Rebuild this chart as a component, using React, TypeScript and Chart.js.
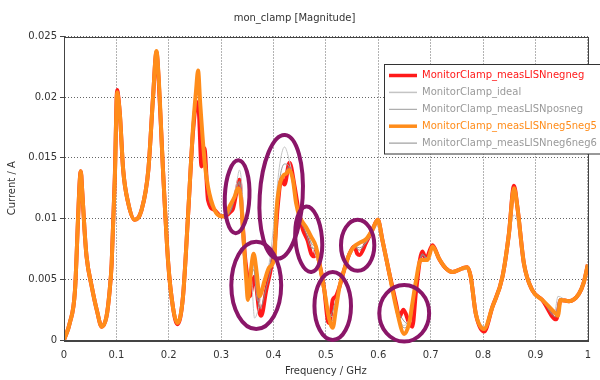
import { useEffect, useRef } from "react";
import { Chart, registerables } from "chart.js";

Chart.register(...registerables);

const TITLE = "mon_clamp [Magnitude]";
const X_TITLE = "Frequency / GHz";
const Y_TITLE = "Current / A";
const X_TICKS = [0, 0.1, 0.2, 0.3, 0.4, 0.5, 0.6, 0.7, 0.8, 0.9, 1];
const Y_TICKS = [0, 0.005, 0.01, 0.015, 0.02, 0.025];

const SERIES_NAMES = [
  "MonitorClamp_measLISNnegneg",
  "MonitorClamp_ideal",
  "MonitorClamp_measLISNposneg",
  "MonitorClamp_measLISNneg5neg5",
  "MonitorClamp_measLISNneg6neg6",
];

// [frequency GHz, current A]
const negneg: [number, number][] = [
  [0, 0], [0.011, 0.0014], [0.021, 0.0041], [0.027, 0.0102], [0.03, 0.0131], [0.032, 0.0139], [0.035, 0.0121],
  [0.039, 0.0092], [0.043, 0.0069], [0.053, 0.0044], [0.063, 0.0024], [0.072, 0.0011], [0.081, 0.0019],
  [0.087, 0.004], [0.091, 0.0063], [0.097, 0.0134], [0.1015, 0.0206], [0.104, 0.0199], [0.107, 0.0184],
  [0.113, 0.014], [0.1225, 0.0113], [0.135, 0.0099], [0.148, 0.0107], [0.161, 0.014], [0.17, 0.02],
  [0.1765, 0.0237], [0.181, 0.0212], [0.189, 0.014], [0.199, 0.0063], [0.208, 0.0027], [0.2165, 0.0013],
  [0.227, 0.0035], [0.237, 0.0104], [0.246, 0.017], [0.2535, 0.0196], [0.2575, 0.0188], [0.2625, 0.0143],
  [0.268, 0.0158], [0.275, 0.0115], [0.2876, 0.0107], [0.3, 0.0102], [0.3067, 0.0102], [0.319, 0.0106],
  [0.3225, 0.0108], [0.329, 0.0121], [0.335, 0.0132], [0.338, 0.0118], [0.345, 0.0071], [0.351, 0.0049],
  [0.3543, 0.0036], [0.3638, 0.0052], [0.373, 0.0023], [0.3765, 0.002], [0.386, 0.0041], [0.3956, 0.006],
  [0.402, 0.0077], [0.408, 0.011], [0.415, 0.0133], [0.421, 0.0128], [0.4305, 0.0146], [0.44, 0.0127],
  [0.4495, 0.0102], [0.456, 0.0091], [0.465, 0.0082], [0.472, 0.0071], [0.478, 0.0069], [0.481, 0.0074],
  [0.4876, 0.0063], [0.497, 0.0041], [0.5035, 0.0016], [0.5067, 0.0014], [0.513, 0.0033], [0.519, 0.0036],
  [0.526, 0.0044], [0.535, 0.0058], [0.545, 0.0071], [0.554, 0.0077], [0.56, 0.0071], [0.564, 0.007],
  [0.5765, 0.008], [0.589, 0.0091], [0.599, 0.0099], [0.608, 0.0082], [0.621, 0.0055], [0.634, 0.003],
  [0.64, 0.0019], [0.648, 0.0025], [0.659, 0.0014], [0.665, 0.0011], [0.672, 0.004], [0.684, 0.0073],
  [0.691, 0.0067], [0.7035, 0.0078], [0.716, 0.0067], [0.729, 0.0059], [0.7415, 0.0056], [0.7606, 0.0059],
  [0.77, 0.006], [0.7765, 0.0052], [0.786, 0.0022], [0.802, 0.0007], [0.8177, 0.0027], [0.837, 0.0052],
  [0.8495, 0.0088], [0.859, 0.0127], [0.8654, 0.011], [0.878, 0.0063], [0.894, 0.0041], [0.913, 0.0033],
  [0.9397, 0.0017], [0.948, 0.0033], [0.964, 0.0032], [0.983, 0.0038], [0.992, 0.0047], [1, 0.0062],
];

const ideal: [number, number][] = [
  [0, 0], [0.021, 0.0041], [0.027, 0.0102], [0.032, 0.0139], [0.035, 0.0121], [0.043, 0.0069], [0.053, 0.0044],
  [0.072, 0.0011], [0.081, 0.0019], [0.091, 0.0063], [0.097, 0.0132], [0.1015, 0.0203], [0.107, 0.0184],
  [0.113, 0.014], [0.1225, 0.0113], [0.135, 0.0099], [0.148, 0.0107], [0.161, 0.014], [0.17, 0.02],
  [0.1765, 0.0236], [0.181, 0.0213], [0.189, 0.014], [0.199, 0.0063], [0.208, 0.0027], [0.2165, 0.0014],
  [0.227, 0.0035], [0.237, 0.0104], [0.246, 0.0172], [0.256, 0.022], [0.26, 0.0196], [0.2686, 0.0146],
  [0.275, 0.0126], [0.2876, 0.0107], [0.3, 0.0102], [0.3067, 0.0102], [0.319, 0.011], [0.329, 0.0128],
  [0.335, 0.014], [0.34, 0.0125], [0.345, 0.0082], [0.351, 0.0048], [0.357, 0.0052], [0.3638, 0.0018],
  [0.37, 0.0024], [0.38, 0.0045], [0.392, 0.0064], [0.402, 0.0102], [0.411, 0.0142], [0.421, 0.0159],
  [0.43, 0.0148], [0.437, 0.0133], [0.443, 0.0113], [0.4495, 0.0102], [0.462, 0.0091], [0.472, 0.0079],
  [0.4876, 0.006], [0.497, 0.0042], [0.505, 0.0024], [0.513, 0.0019], [0.519, 0.003], [0.526, 0.0044],
  [0.545, 0.0071], [0.554, 0.0077], [0.564, 0.0079], [0.5765, 0.0081], [0.589, 0.0088], [0.597, 0.0094],
  [0.608, 0.008], [0.621, 0.0055], [0.634, 0.0028], [0.648, 0.0012], [0.659, 0.0018], [0.672, 0.005],
  [0.681, 0.0066], [0.694, 0.0068], [0.7035, 0.0077], [0.716, 0.0067], [0.729, 0.0059], [0.7415, 0.0056],
  [0.7606, 0.0058], [0.77, 0.0058], [0.7765, 0.005], [0.786, 0.0025], [0.802, 0.0011], [0.8177, 0.0027],
  [0.837, 0.0052], [0.8495, 0.0085], [0.859, 0.0103], [0.8654, 0.0098], [0.878, 0.0063], [0.894, 0.0041],
  [0.913, 0.0033], [0.937, 0.0024], [0.943, 0.0036], [0.964, 0.0032], [0.983, 0.0038], [0.992, 0.0047],
  [1, 0.0062],
];

const posneg: [number, number][] = [
  [0, 0], [0.021, 0.0041], [0.027, 0.0102], [0.032, 0.0138], [0.035, 0.0121], [0.043, 0.0069], [0.053, 0.0044],
  [0.072, 0.0011], [0.081, 0.0019], [0.091, 0.0063], [0.097, 0.0132], [0.1015, 0.0204], [0.107, 0.0184],
  [0.113, 0.014], [0.1225, 0.0113], [0.135, 0.0099], [0.148, 0.0107], [0.161, 0.014], [0.17, 0.02],
  [0.1765, 0.0237], [0.181, 0.0214], [0.189, 0.014], [0.199, 0.0063], [0.208, 0.0027], [0.2165, 0.0014],
  [0.227, 0.0035], [0.237, 0.0104], [0.246, 0.0172], [0.256, 0.0218], [0.26, 0.0194], [0.2686, 0.0146],
  [0.275, 0.0124], [0.2876, 0.0107], [0.3, 0.0102], [0.3067, 0.0102], [0.319, 0.0108], [0.329, 0.0124],
  [0.334, 0.013], [0.339, 0.0114], [0.345, 0.0066], [0.351, 0.004], [0.36, 0.0066], [0.37, 0.0032],
  [0.38, 0.0046], [0.392, 0.006], [0.402, 0.0085], [0.411, 0.013], [0.421, 0.0145], [0.43, 0.0143],
  [0.44, 0.0124], [0.4495, 0.0102], [0.462, 0.0092], [0.472, 0.008], [0.481, 0.0075], [0.4876, 0.0062],
  [0.497, 0.0041], [0.505, 0.002], [0.513, 0.0016], [0.519, 0.003], [0.526, 0.0044], [0.545, 0.0071],
  [0.554, 0.0077], [0.564, 0.0076], [0.5765, 0.008], [0.589, 0.0089], [0.599, 0.0096], [0.608, 0.0082],
  [0.621, 0.0055], [0.634, 0.0028], [0.6495, 0.001], [0.659, 0.0016], [0.672, 0.0047], [0.684, 0.007],
  [0.694, 0.0067], [0.7035, 0.0077], [0.716, 0.0067], [0.729, 0.0059], [0.7415, 0.0056], [0.7606, 0.0059],
  [0.77, 0.0059], [0.7765, 0.0051], [0.786, 0.0023], [0.802, 0.001], [0.8177, 0.0027], [0.837, 0.0052],
  [0.8495, 0.0087], [0.859, 0.0118], [0.8654, 0.0106], [0.878, 0.0063], [0.894, 0.0041], [0.913, 0.0033],
  [0.9384, 0.0021], [0.946, 0.0034], [0.964, 0.0032], [0.983, 0.0038], [0.992, 0.0047], [1, 0.0062],
];

const neg5neg5: [number, number][] = [
  [0, 0], [0.011, 0.0014], [0.021, 0.0041], [0.027, 0.0102], [0.03, 0.013], [0.032, 0.0139], [0.035, 0.0121],
  [0.039, 0.0092], [0.043, 0.0069], [0.053, 0.0044], [0.063, 0.0024], [0.072, 0.0011], [0.081, 0.0019],
  [0.087, 0.004], [0.091, 0.0063], [0.097, 0.0132], [0.1015, 0.0204], [0.104, 0.0198], [0.107, 0.0184],
  [0.113, 0.014], [0.1225, 0.0113], [0.135, 0.0099], [0.148, 0.0107], [0.161, 0.014], [0.17, 0.02],
  [0.1765, 0.0238], [0.181, 0.0214], [0.189, 0.014], [0.199, 0.0063], [0.208, 0.0027], [0.2165, 0.0014],
  [0.227, 0.0035], [0.237, 0.0104], [0.246, 0.0173], [0.252, 0.0205], [0.256, 0.0222], [0.26, 0.0195],
  [0.2686, 0.0146], [0.275, 0.0126], [0.2876, 0.0107], [0.3, 0.0102], [0.3067, 0.0102], [0.316, 0.011],
  [0.3257, 0.0118], [0.332, 0.0125], [0.338, 0.0116], [0.3416, 0.0091], [0.348, 0.0049], [0.351, 0.0033],
  [0.3575, 0.006], [0.362, 0.0071], [0.368, 0.0055], [0.373, 0.0036], [0.383, 0.0049], [0.392, 0.006],
  [0.402, 0.0068], [0.405, 0.0102], [0.411, 0.0126], [0.418, 0.0135], [0.424, 0.0137], [0.43, 0.014],
  [0.437, 0.0132], [0.443, 0.0113], [0.4495, 0.0102], [0.462, 0.0093], [0.472, 0.0085], [0.481, 0.0077],
  [0.4876, 0.0063], [0.497, 0.0041], [0.505, 0.002], [0.513, 0.001], [0.519, 0.0025], [0.526, 0.0044],
  [0.535, 0.0058], [0.545, 0.0071], [0.554, 0.0077], [0.564, 0.008], [0.5765, 0.0083], [0.589, 0.0091],
  [0.599, 0.0099], [0.608, 0.0082], [0.621, 0.0055], [0.634, 0.0027], [0.6495, 0.0005], [0.659, 0.0014],
  [0.665, 0.003], [0.672, 0.0049], [0.681, 0.0066], [0.694, 0.0066], [0.7035, 0.0077], [0.716, 0.0067],
  [0.729, 0.0059], [0.7415, 0.0056], [0.7606, 0.0059], [0.77, 0.006], [0.7765, 0.0052], [0.786, 0.0022],
  [0.802, 0.0009], [0.8177, 0.0027], [0.837, 0.0052], [0.8495, 0.0088], [0.859, 0.0125], [0.8654, 0.011],
  [0.878, 0.0063], [0.894, 0.0041], [0.913, 0.0033], [0.9384, 0.0022], [0.943, 0.002], [0.948, 0.0033],
  [0.964, 0.0032], [0.983, 0.0038], [0.992, 0.0047], [1, 0.0062],
];

const neg6neg6: [number, number][] = [
  [0, 0], [0.021, 0.0041], [0.027, 0.0102], [0.032, 0.0139], [0.035, 0.0121], [0.043, 0.0069], [0.053, 0.0044],
  [0.072, 0.0011], [0.081, 0.0019], [0.091, 0.0063], [0.097, 0.0133], [0.1015, 0.0205], [0.107, 0.0184],
  [0.113, 0.014], [0.1225, 0.0113], [0.135, 0.0099], [0.148, 0.0107], [0.161, 0.014], [0.17, 0.02],
  [0.1765, 0.0237], [0.181, 0.0213], [0.189, 0.014], [0.199, 0.0063], [0.208, 0.0027], [0.2165, 0.0014],
  [0.227, 0.0035], [0.237, 0.0104], [0.246, 0.0171], [0.255, 0.0205], [0.26, 0.0185], [0.2686, 0.0148],
  [0.275, 0.012], [0.2876, 0.0107], [0.3, 0.0102], [0.3067, 0.0102], [0.319, 0.0107], [0.329, 0.0122],
  [0.335, 0.0131], [0.339, 0.0116], [0.345, 0.0072], [0.352, 0.0042], [0.362, 0.0058], [0.374, 0.0026],
  [0.386, 0.0043], [0.396, 0.0061], [0.403, 0.0085], [0.411, 0.0128], [0.421, 0.0136], [0.43, 0.0143],
  [0.44, 0.0126], [0.4495, 0.0102], [0.462, 0.0088], [0.472, 0.0076], [0.481, 0.0075], [0.4876, 0.0063],
  [0.497, 0.0041], [0.505, 0.0017], [0.513, 0.0024], [0.519, 0.0033], [0.526, 0.0044], [0.545, 0.0071],
  [0.554, 0.0077], [0.564, 0.0074], [0.5765, 0.0081], [0.589, 0.009], [0.599, 0.0098], [0.608, 0.0082],
  [0.621, 0.0055], [0.634, 0.0029], [0.645, 0.0018], [0.659, 0.0013], [0.672, 0.0044], [0.684, 0.0071],
  [0.694, 0.0067], [0.7035, 0.0077], [0.716, 0.0067], [0.729, 0.0059], [0.7415, 0.0056], [0.7606, 0.0059],
  [0.77, 0.006], [0.7765, 0.0052], [0.786, 0.0022], [0.802, 0.0008], [0.8177, 0.0027], [0.837, 0.0052],
  [0.8495, 0.0088], [0.859, 0.0124], [0.8654, 0.0109], [0.878, 0.0063], [0.894, 0.0041], [0.913, 0.0033],
  [0.939, 0.0019], [0.947, 0.0033], [0.964, 0.0032], [0.983, 0.0038], [0.992, 0.0047], [1, 0.0062],
];

// Highlight ellipses (annotation): centre frequency, centre current, half-width (GHz), half-height (A), tilt (rad)
const MARK_FREQ = [0.3305, 0.4146, 0.367, 0.4672, 0.513, 0.5606, 0.6495];
const MARK_CURR = [0.0118, 0.0118, 0.0045, 0.0083, 0.0028, 0.0078, 0.0022];
const MARK_HALF_F = [0.0235, 0.041, 0.0476, 0.0254, 0.0349, 0.0318, 0.0476];
const MARK_HALF_C = [0.003, 0.0051, 0.0036, 0.0027, 0.0028, 0.0021, 0.00233];
const MARK_TILT = [0.04, 0.06, 0, -0.08, 0, 0, 0];

const FONT = "'DejaVu Sans', Verdana, sans-serif";

const ellipsePlugin = {
  id: "highlightEllipses",
  afterDatasetsDraw(chart: any) {
    const { ctx, scales } = chart;
    const xs = scales.x;
    const ys = scales.y;
    ctx.save();
    ctx.strokeStyle = "#8a1668";
    ctx.lineWidth = 4;
    MARK_FREQ.forEach((f, i) => {
      const cx = xs.getPixelForValue(f);
      const cy = ys.getPixelForValue(MARK_CURR[i]);
      const rx = Math.abs(xs.getPixelForValue(f + MARK_HALF_F[i]) - cx);
      const ry = Math.abs(ys.getPixelForValue(MARK_CURR[i] + MARK_HALF_C[i]) - cy);
      ctx.beginPath();
      ctx.ellipse(cx, cy, rx, ry, MARK_TILT[i], 0, Math.PI * 2);
      ctx.stroke();
    });
    ctx.restore();
  },
};

const framePlugin = {
  id: "plotFrame",
  afterDatasetsDraw(chart: any) {
    const { ctx, chartArea: a } = chart;
    ctx.save();
    ctx.strokeStyle = "#444";
    ctx.lineWidth = 1;
    ctx.strokeRect(Math.round(a.left) + 0.5, Math.round(a.top) + 0.5, Math.round(a.right - a.left), Math.round(a.bottom - a.top));
    ctx.restore();
  },
};

const legendPlugin = {
  id: "boxLegend",
  afterDraw(chart: any) {
    const { ctx } = chart;
    const ds = chart.data.datasets;
    const boxLeft = 384.5;
    const boxTop = 64.5;
    const rowH = 16.9;
    ctx.save();
    ctx.fillStyle = "#ffffff";
    ctx.fillRect(boxLeft, boxTop, 620 - boxLeft, rowH * ds.length + 5);
    ctx.strokeStyle = "#333";
    ctx.lineWidth = 1;
    ctx.strokeRect(boxLeft, boxTop, 620 - boxLeft, rowH * ds.length + 5);
    ctx.font = `10px ${FONT}`;
    ctx.textBaseline = "middle";
    ds.forEach((d: any, i: number) => {
      const y = boxTop + 11 + i * rowH;
      ctx.strokeStyle = d.borderColor;
      ctx.lineWidth = d.legendWidth;
      ctx.beginPath();
      ctx.moveTo(389, y);
      ctx.lineTo(417, y);
      ctx.stroke();
      ctx.fillStyle = d.legendTextColor;
      ctx.fillText(d.label, 422, y);
    });
    ctx.restore();
  },
};

const toPoints = (arr: [number, number][]) => arr.map(([x, y]) => ({ x, y }));

export default function App() {
  const ref = useRef<HTMLCanvasElement>(null);

  useEffect(() => {
    document.body.style.margin = "0";
    const canvas = ref.current;
    if (!canvas) return;
    const common = {
      pointRadius: 0,
      pointHoverRadius: 0,
      cubicInterpolationMode: "monotone" as const,
      fill: false,
    };
    const chart = new Chart(canvas, {
      type: "line",
      data: {
        datasets: [
          { ...common, label: SERIES_NAMES[0], data: toPoints(negneg), borderColor: "#ff1a1a", borderWidth: 4, order: 4, legendWidth: 3.5, legendTextColor: "#ff1a1a" } as any,
          { ...common, label: SERIES_NAMES[1], data: toPoints(ideal), borderColor: "#c4c4c4", borderWidth: 1, order: 3, legendWidth: 1.5, legendTextColor: "#9a9a9a" } as any,
          { ...common, label: SERIES_NAMES[2], data: toPoints(posneg), borderColor: "#9a9a9a", borderWidth: 1, order: 2, legendWidth: 1, legendTextColor: "#9a9a9a" } as any,
          { ...common, label: SERIES_NAMES[3], data: toPoints(neg5neg5), borderColor: "#ff8c1a", borderWidth: 4, order: 0, legendWidth: 3.5, legendTextColor: "#ff8c1a" } as any,
          { ...common, label: SERIES_NAMES[4], data: toPoints(neg6neg6), borderColor: "#8a8a8a", borderWidth: 1, order: 1, legendWidth: 1, legendTextColor: "#9a9a9a" } as any,
        ],
      },
      options: {
        animation: false,
        responsive: false,
        maintainAspectRatio: false,
        events: [],
        layout: { padding: { left: 0, right: 11, top: 0, bottom: 0 } },
        plugins: {
          legend: { display: false },
          tooltip: { enabled: false },
          title: {
            display: true,
            text: TITLE,
            color: "#333",
            font: { family: FONT, size: 10, weight: "normal" as any, lineHeight: 1.2 },
            padding: { top: 12, bottom: 12.5 },
          },
        },
        scales: {
          x: {
            type: "linear",
            min: 0,
            max: 1,
            afterBuildTicks: (s: any) => {
              s.ticks = X_TICKS.map((v) => ({ value: v }));
            },
            afterFit: (s: any) => {
              s.height = 40;
            },
            ticks: {
              color: "#333",
              font: { family: FONT, size: 10 },
              padding: 9,
              maxRotation: 0,
              autoSkip: false,
              callback: (v: any) => String(Number(Number(v).toFixed(3))),
            },
            grid: { color: "#666", lineWidth: 1, drawTicks: false, tickLength: 0 },
            border: { display: true, color: "#444", dash: [1, 2] },
            title: { display: true, text: X_TITLE, color: "#333", font: { family: FONT, size: 10 }, padding: { top: 3, bottom: 3 } },
          },
          y: {
            type: "linear",
            min: 0,
            max: 0.025,
            afterBuildTicks: (s: any) => {
              s.ticks = Y_TICKS.map((v) => ({ value: v }));
            },
            afterFit: (s: any) => {
              s.width = 64;
            },
            ticks: {
              color: "#333",
              font: { family: FONT, size: 10 },
              padding: 3,
              autoSkip: false,
              callback: (v: any) => String(Number(Number(v).toFixed(4))),
            },
            grid: { color: "#666", lineWidth: 1, tickLength: 4, tickColor: "#444", tickBorderDash: [] },
            border: { display: true, color: "#444", dash: [1, 2] },
            title: { display: true, text: Y_TITLE, color: "#333", font: { family: FONT, size: 10 }, padding: { top: 6, bottom: 6 } },
          },
        },
      },
      plugins: [framePlugin, ellipsePlugin, legendPlugin],
    });
    return () => chart.destroy();
  }, []);

  return (
    <div style={{ position: "absolute", left: 0, top: 0, width: 600, height: 380, background: "#fff" }}>
      <canvas ref={ref} width={600} height={380} style={{ display: "block", width: 600, height: 380 }} />
    </div>
  );
}
